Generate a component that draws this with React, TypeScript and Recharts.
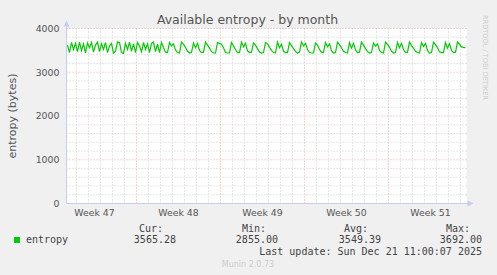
import { LineChart, Line, XAxis, YAxis, CartesianGrid, ReferenceLine, ReferenceDot } from 'recharts';

// hours counted from Monday 00:00 of week 47
const weekLabels = ['Week 47', 'Week 48', 'Week 49', 'Week 50', 'Week 51'];
const weekCenters = [84, 252, 420, 588, 756];
const weekStarts = [168, 336, 504, 672];
const dayLines = [
  48, 72, 96, 120, 144, 192, 216, 240, 264, 288, 312, 360, 384, 408, 432, 456, 480,
  528, 552, 576, 600, 624, 648, 696, 720, 744, 768, 792, 816,
];
const yTicks = [0, 1000, 2000, 3000, 4000];
const yMajor = [1000, 2000, 3000, 4000];
const yMinor = [
  200, 400, 600, 800, 1200, 1400, 1600, 1800, 2200, 2400, 2600, 2800, 3200, 3400, 3600, 3800,
];

const firstSampleHour = 30;
const sampleStep = 4;
const entropy = [
  3620, 3450, 3680, 3520, 3660, 3470, 3690, 3500, 3650, 3440, 3670, 3560, 3680, 3460, 3620, 3690,
  3470, 3650, 3520, 3680, 3450, 3600, 3660, 3440, 3480, 3690, 3680, 3450, 3430, 3660, 3520, 3690,
  3480, 3650, 3450, 3680, 3600, 3470, 3680, 3520, 3650, 3450, 3660, 3690, 3470, 3640, 3450, 3680,
  3560, 3460,
  3450, 3680, 3600, 3650, 3510, 3450,
  3440, 3690, 3640, 3570, 3480, 3440,
  3450, 3670, 3560, 3660, 3500, 3450,
  3460, 3690, 3620, 3550, 3470, 3440,
  3440, 3680, 3660, 3640, 3560, 3450,
  3440, 3440, 3680, 3600, 3520, 3450,
  3450, 3690, 3580, 3660, 3490, 3450,
  3460, 3670, 3620, 3540, 3460, 3440,
  3450, 3680, 3650, 3570, 3500, 3450,
  3440, 3690, 3560, 3640, 3480, 3450,
  3450, 3680, 3610, 3540, 3470, 3440,
  3460, 3690, 3600, 3660, 3520, 3450,
  3440, 3440, 3670, 3620, 3520, 3460,
  3450, 3680, 3580, 3650, 3490, 3440,
  3450, 3690, 3630, 3560, 3480, 3450,
  3440, 3680, 3550, 3660, 3510, 3450,
  3460, 3690, 3620, 3540, 3470, 3440,
  3450, 3670, 3600, 3650, 3500, 3450,
  3440, 3690, 3640, 3570, 3480, 3440,
  3450, 3680, 3560, 3660, 3520, 3450,
  3460, 3690, 3610, 3550, 3480, 3450,
  3440, 3680, 3590, 3660, 3500, 3440,
  3450, 3690, 3630, 3560, 3470, 3450,
  3450, 3680, 3550, 3650, 3500, 3450,
  3460, 3690, 3640, 3580, 3570, 3565,
];

const statLabels = ['Cur:', 'Min:', 'Avg:', 'Max:'];
const statValues = ['3565.28', '2855.00', '3549.39', '3692.00'];
const lastUpdate = 'Last update: Sun Dec 21 11:00:07 2025';

const data = entropy.map((v, i) => ({ t: firstSampleHour + i * sampleStep, entropy: v }));

const AXIS = '#c6cdf5';
const MINOR = '#cfcfcf';
const MAJOR = '#eeaaaa';
const SANS = '"DejaVu Sans", sans-serif';
const MONO = '"DejaVu Sans Mono", monospace';

const statLabelX = [163, 266, 368, 470];
const statValueX = [176, 278, 381, 482];

function UpArrow(props: any) {
  const { cx, cy } = props;
  return (
    <g>
      <line x1={cx} y1={cy} x2={cx} y2={cy - 3} stroke={AXIS} />
      <path d={`M${cx - 3},${cy - 2} L${cx + 3},${cy - 2} L${cx},${cy - 8} Z`} fill={AXIS} />
    </g>
  );
}

function RightArrow(props: any) {
  const { cx, cy } = props;
  return (
    <g>
      <line x1={cx} y1={cy} x2={cx + 2} y2={cy} stroke={AXIS} />
      <path d={`M${cx + 1},${cy - 3} L${cx + 1},${cy + 3} L${cx + 7},${cy} Z`} fill={AXIS} />
    </g>
  );
}

export default function App() {
  return (
    <div style={{ position: 'relative', width: 497, height: 275, background: '#f0f0f0' }}>
      <style>{'body{margin:0}'}</style>
      <LineChart
        width={497}
        height={275}
        data={data}
        margin={{ top: 28.5, right: 30.5, bottom: 41.5, left: 6.5 }}
      >
        <CartesianGrid fill="#ffffff" horizontal={false} vertical={false} />
        {yMinor.map((y) => (
          <ReferenceLine key={`ym${y}`} y={y} stroke={MINOR} strokeDasharray="1 2" />
        ))}
        {dayLines.map((x) => (
          <ReferenceLine key={`xm${x}`} x={x} stroke={MINOR} strokeDasharray="1 2" />
        ))}
        {yMajor.map((y) => (
          <ReferenceLine key={`yM${y}`} y={y} stroke={MAJOR} strokeDasharray="1 2" />
        ))}
        {weekStarts.map((x) => (
          <ReferenceLine key={`xM${x}`} x={x} stroke={MAJOR} strokeDasharray="1 2" />
        ))}
        <XAxis
          dataKey="t"
          type="number"
          domain={[28, 828]}
          allowDataOverflow
          ticks={weekCenters}
          tickFormatter={(v: number) => weekLabels[weekCenters.indexOf(v)] ?? ''}
          tick={{ fill: '#555', fontSize: 9.4, fontFamily: SANS }}
          tickLine={false}
          tickSize={4}
          tickMargin={2}
          axisLine={{ stroke: AXIS }}
          height={30}
        />
        <YAxis
          type="number"
          domain={[0, 4000]}
          ticks={yTicks}
          tick={{ fill: '#555', fontSize: 9.4, fontFamily: SANS }}
          tickLine={false}
          tickSize={4}
          tickMargin={3}
          axisLine={{ stroke: AXIS }}
          width={60}
        />
        <Line
          type="linear"
          dataKey="entropy"
          stroke="#00cc00"
          strokeWidth={1.2}
          dot={false}
          isAnimationActive={false}
        />
        <ReferenceDot x={28} y={4000} r={0} shape={UpArrow} ifOverflow="visible" />
        <ReferenceDot x={828} y={0} r={0} shape={RightArrow} ifOverflow="visible" />
      </LineChart>
      <svg
        width={497}
        height={275}
        style={{ position: 'absolute', left: 0, top: 0, pointerEvents: 'none' }}
      >
        <text x={247.5} y={24} textAnchor="middle" fontFamily={SANS} fontSize={12.5} fill="#555">
          Available entropy - by month
        </text>
        <text
          transform="translate(15.5,116) rotate(-90)"
          textAnchor="middle"
          fontFamily={SANS}
          fontSize={11}
          fill="#555"
        >
          entropy (bytes)
        </text>
        <text
          transform="translate(483,15) rotate(90)"
          textAnchor="start"
          fontFamily={SANS}
          fontSize={6.6}
          fill="#cccccc"
        >
          RRDTOOL / TOBI OETIKER
        </text>
        <rect x={14} y={237} width={6} height={6} fill="#00cc00" />
        <text x={26} y={243} fontFamily={MONO} fontSize={10} fill="#444">
          entropy
        </text>
        {statLabels.map((s, i) => (
          <text key={s} x={statLabelX[i]} y={231.7} textAnchor="end" fontFamily={MONO} fontSize={10} fill="#444">
            {s}
          </text>
        ))}
        {statValues.map((s, i) => (
          <text key={s} x={statValueX[i]} y={243.3} textAnchor="end" fontFamily={MONO} fontSize={10} fill="#444">
            {s}
          </text>
        ))}
        <text x={482} y={255.3} textAnchor="end" fontFamily={MONO} fontSize={10} fill="#444">
          {lastUpdate}
        </text>
        <text x={248} y={267} textAnchor="middle" fontFamily={SANS} fontSize={8} fill="#cccccc">
          Munin 2.0.73
        </text>
      </svg>
    </div>
  );
}
